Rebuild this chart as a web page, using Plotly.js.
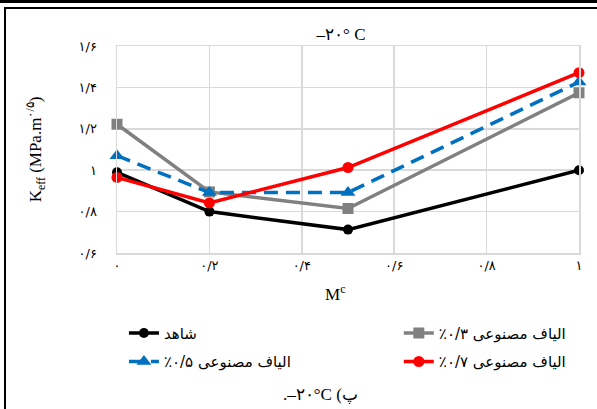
<!DOCTYPE html>
<html>
<head>
<meta charset="utf-8">
<script src="https://cdn.plot.ly/plotly-3.0.1.min.js"></script>
<style>
  html, body { margin: 0; padding: 0; background: #fff; }
  #wrap { position: relative; width: 597px; height: 409px; overflow: hidden; }
  #chart { position: absolute; left: 0; top: 0; width: 597px; height: 409px; }
  .frame-top { position: absolute; left: 0; top: 0; width: 597px; height: 3px; background: #000; pointer-events: none; }
  .frame-box { position: absolute; left: 4px; top: 7px; width: 600px; height: 410px; border-top: 2px solid #000; border-left: 2px solid #000; pointer-events: none; }
</style>
</head>
<body>
<div id="wrap">
  <div id="chart"></div>
  <div class="frame-top"></div>
  <div class="frame-box"></div>
</div>
<script>
// ---- data ----
const mcValues = [0, 0.2, 0.5, 1];
const controlK = [0.99, 0.80, 0.713, 1.0];      // شاهد
const fiber03K = [1.222, 0.895, 0.815, 1.374];  // الیاف مصنوعی ۰/۳٪
const fiber05K = [1.07, 0.892, 0.892, 1.426];   // الیاف مصنوعی ۰/۵٪
const fiber07K = [0.965, 0.842, 1.013, 1.471];  // الیاف مصنوعی ۰/۷٪

const seriesNames = [
  'شاهد',
  '\u202Bالیاف مصنوعی ۰/۳٪\u202C',
  '\u202Bالیاف مصنوعی ۰/۵٪\u202C',
  '\u202Bالیاف مصنوعی ۰/۷٪\u202C'
];

const xTickVals = [0, 0.2, 0.4, 0.6, 0.8, 1];
const xTickText = ['۰', '۰/۲', '۰/۴', '۰/۶', '۰/۸', '۱'];
const yTickVals = [0.6, 0.8, 1.0, 1.2, 1.4, 1.6];
const yTickText = ['۰/۶', '۰/۸', '۱', '۱/۲', '۱/۴', '۱/۶'];

const chartTitle = '–۲۰° C';
const xTitle = 'M<sup>c</sup>';
const yTitle = 'K<sub>eff</sub> (MPa.m<sup>۰/۵</sup>)';
const caption = '\u202D.–۲۰°C (پ\u202C';

// ---- traces ----
const traces = [
  {x: mcValues, y: controlK, name: seriesNames[0], mode: 'lines+markers', legend: 'legend', legendgroup: 'a',
   line: {color: '#000000', width: 3.5}, marker: {symbol: 'circle', size: 10, color: '#000000'}},
  {x: mcValues, y: fiber03K, name: seriesNames[1], mode: 'lines+markers', legend: 'legend2', legendgroup: 'b',
   line: {color: '#808080', width: 3.5}, marker: {symbol: 'square', size: 11, color: '#808080'}},
  {x: mcValues, y: fiber05K, name: seriesNames[2], mode: 'lines+markers', legend: 'legend', legendgroup: 'c',
   line: {color: '#0070c0', width: 3.5, dash: '14px,8px'}, marker: {symbol: 'triangle-up', size: 13, color: '#0070c0'}},
  {x: mcValues, y: fiber07K, name: seriesNames[3], mode: 'lines+markers', legend: 'legend2', legendgroup: 'd',
   line: {color: '#ff0000', width: 3.5}, marker: {symbol: 'circle', size: 11, color: '#ff0000'}}
];
traces.forEach(t => { t.cliponaxis = false; });

const serif = 'Liberation Serif, DejaVu Serif, serif';
const arabicFont = 'DejaVu Sans, sans-serif';
const gridCol = '#d9d9d9';

const legendBase = {
  orientation: 'v', yanchor: 'top', xanchor: 'left',
  font: {family: arabicFont, size: 15, color: '#000'},
  bgcolor: 'rgba(0,0,0,0)', tracegroupgap: 6, traceorder: 'grouped'
};

const layout = {
  width: 597, height: 409,
  margin: {l: 117, r: 18, t: 46, b: 156, pad: 0, autoexpand: false},
  paper_bgcolor: 'rgba(0,0,0,0)',
  plot_bgcolor: '#ffffff',
  showlegend: true,
  title: {text: chartTitle, x: 0.485, xref: 'paper', xanchor: 'center', y: 1, yref: 'paper', yanchor: 'bottom',
          pad: {b: 6}, font: {family: serif, size: 17, color: '#000'}},
  xaxis: {
    range: [0, 1], tickvals: xTickVals, ticktext: xTickText,
    showgrid: true, gridcolor: gridCol, gridwidth: 1.5, zeroline: false,
    showline: true, linecolor: gridCol, linewidth: 1.5, mirror: true,
    ticks: '', tickfont: {family: arabicFont, size: 13, color: '#000'},
    fixedrange: true
  },
  yaxis: {
    range: [0.6, 1.6], tickvals: yTickVals, ticktext: yTickText,
    showgrid: true, gridcolor: gridCol, gridwidth: 1.5, zeroline: false,
    showline: true, linecolor: gridCol, linewidth: 1.5, mirror: true,
    ticks: 'outside', ticklen: 16, tickcolor: 'rgba(0,0,0,0)',
    tickfont: {family: arabicFont, size: 13, color: '#000'},
    title: {text: yTitle, standoff: 32, font: {family: serif, size: 17, color: '#000'}},
    fixedrange: true
  },
  legend: Object.assign({}, legendBase, {x: 0.015, y: -0.308}),
  legend2: Object.assign({}, legendBase, {x: 0.61, y: -0.308}),
  annotations: [
    {text: xTitle, xref: 'paper', yref: 'paper', x: 0.472, y: -0.193, xanchor: 'center', yanchor: 'middle',
     showarrow: false, font: {family: serif, size: 17, color: '#000'}},
    {text: caption, xref: 'paper', yref: 'paper', x: 0.44, y: -0.686, xanchor: 'center', yanchor: 'middle',
     showarrow: false, font: {family: serif, size: 17, color: '#000'}}
  ]
};

Plotly.newPlot('chart', traces, layout, {displayModeBar: false, staticPlot: true});
</script>
</body>
</html>
